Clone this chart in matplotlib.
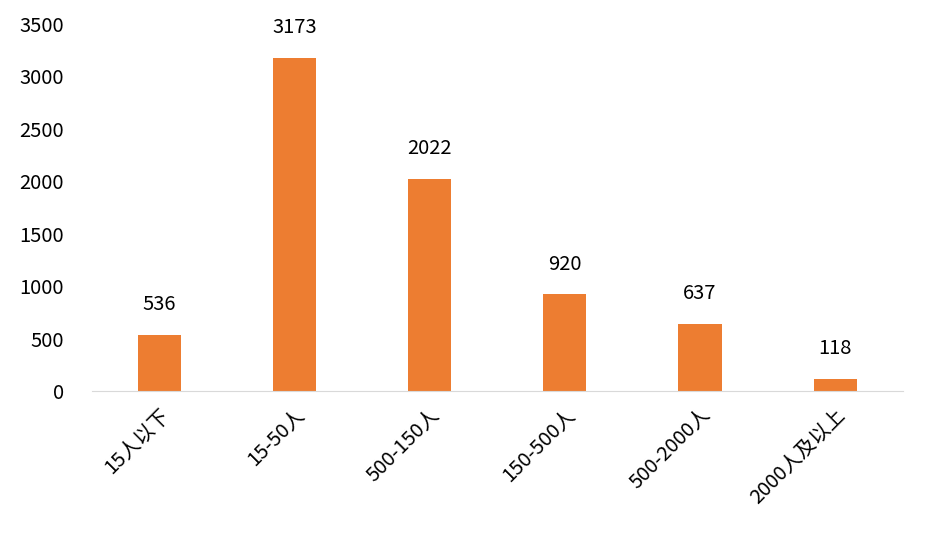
import matplotlib
matplotlib.use("Agg")
import matplotlib.pyplot as plt

categories = ["15人以下", "15-50人", "500-150人", "150-500人", "500-2000人", "2000人及以上"]
values = [536, 3173, 2022, 920, 637, 118]

plt.rcParams['font.family'] = ['Noto Sans CJK SC', 'DejaVu Sans']
fig = plt.figure(figsize=(9.26, 5.46), dpi=100)
ax = fig.add_axes([0.099, 0.284, 0.876, 0.672])
x = range(len(categories))
bars = ax.bar(x, values, width=0.32, color="#ED7D31")
for xi, v in zip(x, values):
    ax.text(xi, v + 190, str(v), ha="center", va="bottom", fontsize=14.5)
ax.set_xlim(-0.5, len(categories) - 0.5)
ax.set_ylim(0, 3500)
ax.set_yticks(range(0, 3501, 500))
ax.set_xticks(list(x))
ax.set_xticklabels(categories, rotation=45, ha="right", rotation_mode="anchor", fontsize=14.5)
ax.tick_params(axis="y", labelsize=14.5, length=0, pad=20)
ax.tick_params(axis="x", length=0, pad=10)
for s in ["top", "right", "left"]:
    ax.spines[s].set_visible(False)
ax.spines["bottom"].set_color("#D9D9D9")
fig.savefig("out.png", dpi=100)
